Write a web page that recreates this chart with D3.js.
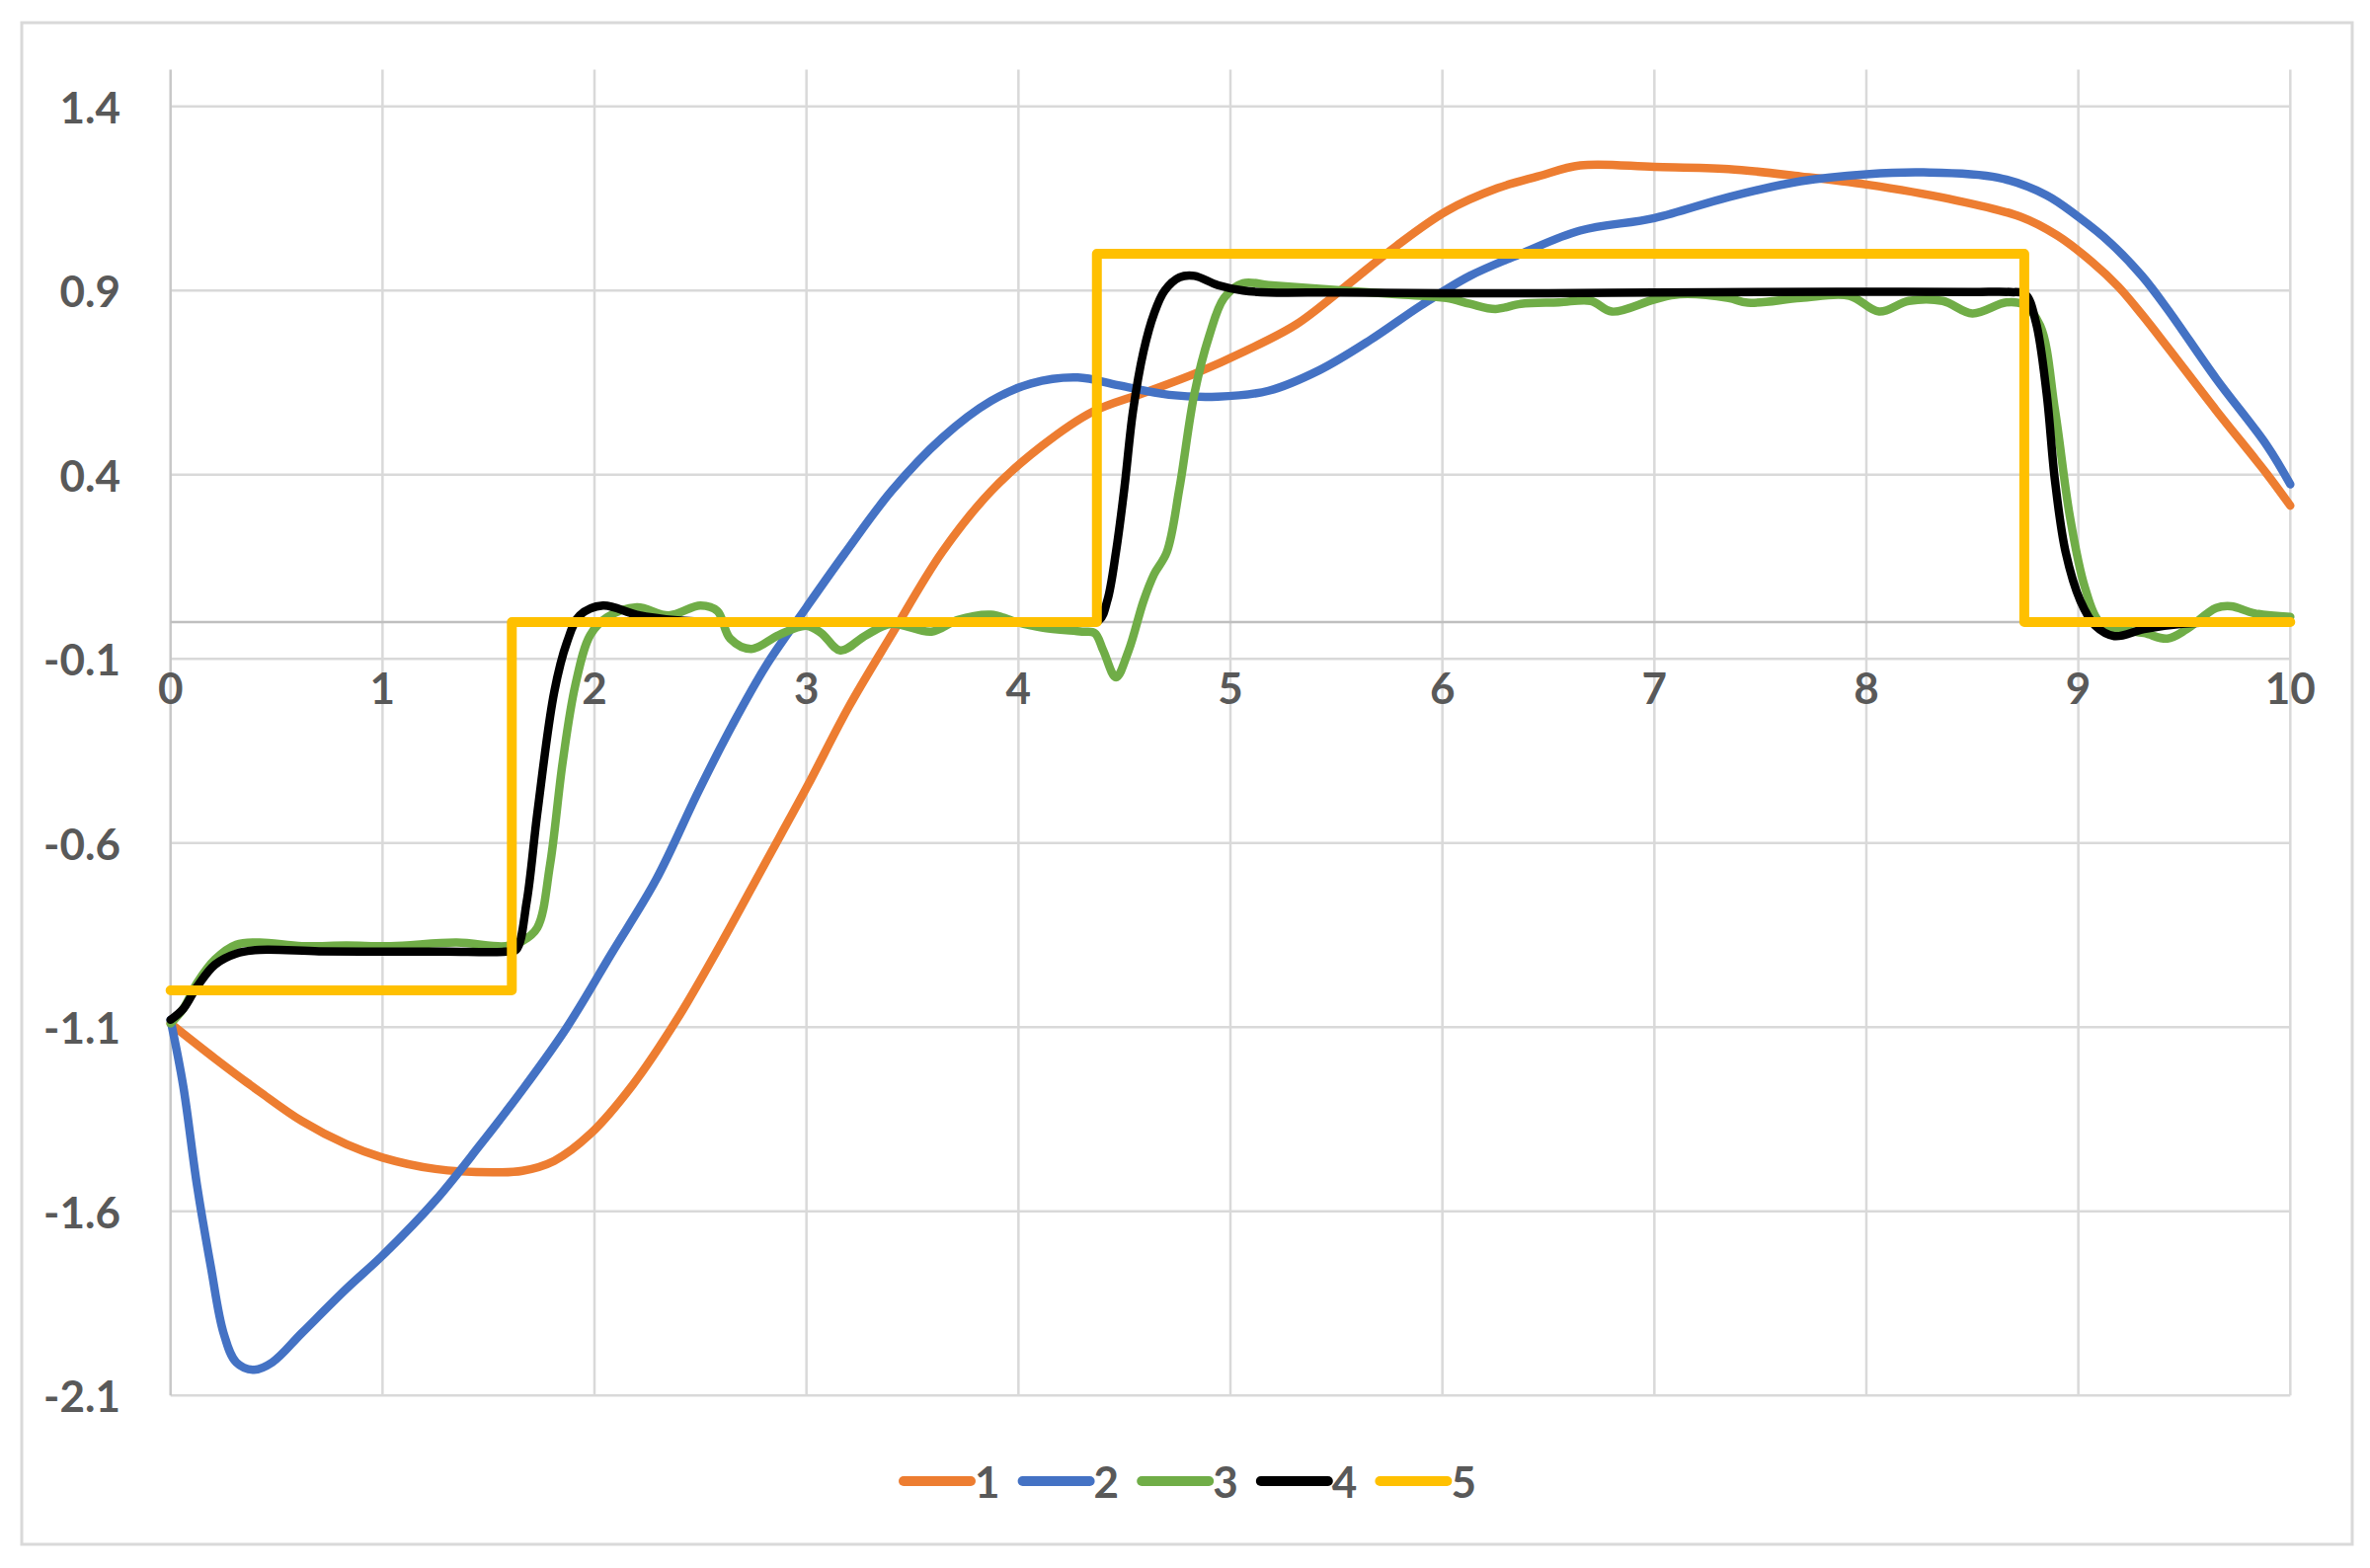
<!DOCTYPE html>
<html>
<head>
<meta charset="utf-8">
<script src="https://cdn.jsdelivr.net/npm/d3@7"></script>
<style>
  html, body { margin: 0; padding: 0; background: #ffffff; }
  svg { display: block; }
  text { font-family: Lato, "Open Sans", "Liberation Sans", sans-serif; fill: #595959; font-weight: 700; }
</style>
</head>
<body>
<script>
// ---------------- data ----------------
const X_TICKS = [0, 1, 2, 3, 4, 5, 6, 7, 8, 9, 10];
const X_LABELS = ["0", "1", "2", "3", "4", "5", "6", "7", "8", "9", "10"];
const Y_TICKS = [-2.1, -1.6, -1.1, -0.6, -0.1, 0.4, 0.9, 1.4];
const Y_LABELS = ["-2.1", "-1.6", "-1.1", "-0.6", "-0.1", "0.4", "0.9", "1.4"];
const SERIES_NAMES = ["1", "2", "3", "4", "5"];

const x1 = [0, 0.21, 0.42, 0.62, 0.83, 1.0, 1.25, 1.52, 1.66, 1.81, 1.98, 2.18, 2.39, 2.6, 2.8, 3.0, 3.2, 3.4, 3.64, 3.87, 4.11, 4.35, 4.59, 4.83, 5.07, 5.31, 5.54, 5.78, 6.02, 6.26, 6.45, 6.65, 7.0, 7.35, 7.69, 8.0, 8.39, 8.73, 8.9, 9.06, 9.19, 9.3, 9.42, 9.65, 9.89, 10];
const y1 = [-1.09, -1.185, -1.275, -1.355, -1.418, -1.454, -1.485, -1.494, -1.49, -1.463, -1.39, -1.257, -1.078, -0.87, -0.66, -0.45, -0.23, -0.036, 0.19, 0.355, 0.478, 0.571, 0.622, 0.674, 0.736, 0.808, 0.91, 1.02, 1.116, 1.178, 1.21, 1.24, 1.236, 1.23, 1.21, 1.188, 1.149, 1.10, 1.05, 0.98, 0.91, 0.835, 0.747, 0.575, 0.402, 0.316];

const x2 = [0, 0.06, 0.125, 0.19, 0.25, 0.31, 0.395, 0.48, 0.62, 0.83, 1.0, 1.25, 1.46, 1.66, 1.87, 2.08, 2.29, 2.49, 2.65, 2.81, 3.0, 3.18, 3.4, 3.64, 3.87, 4.06, 4.28, 4.47, 4.71, 4.94, 5.18, 5.42, 5.66, 5.9, 6.13, 6.37, 6.65, 7.0, 7.35, 7.69, 8.0, 8.27, 8.62, 8.85, 9.0, 9.15, 9.3, 9.42, 9.65, 9.89, 10];
const y2 = [-1.08, -1.26, -1.53, -1.75, -1.93, -2.01, -2.03, -2.01, -1.93, -1.81, -1.72, -1.57, -1.42, -1.27, -1.10, -0.90, -0.70, -0.46, -0.28, -0.118, 0.04, 0.186, 0.355, 0.50, 0.60, 0.648, 0.664, 0.643, 0.617, 0.612, 0.628, 0.684, 0.766, 0.86, 0.94, 1.0, 1.063, 1.097, 1.154, 1.197, 1.216, 1.221, 1.207, 1.159, 1.10, 1.03, 0.94, 0.85, 0.661, 0.479, 0.374];

const x3 = [0, 0.06, 0.125, 0.21, 0.31, 0.42, 0.62, 0.83, 1.04, 1.35, 1.58, 1.66, 1.73, 1.79, 1.85, 1.91, 1.98, 2.06, 2.2, 2.35, 2.5, 2.58, 2.64, 2.74, 2.87, 3.0, 3.07, 3.16, 3.28, 3.4, 3.59, 3.71, 3.87, 3.99, 4.11, 4.3, 4.36, 4.4, 4.46, 4.52, 4.59, 4.64, 4.7, 4.76, 4.83, 4.9, 4.97, 5.06, 5.18, 5.42, 5.78, 6.02, 6.13, 6.25, 6.37, 6.55, 6.7, 6.8, 7.0, 7.12, 7.35, 7.44, 7.69, 7.92, 8.06, 8.2, 8.36, 8.5, 8.66, 8.74, 8.82, 8.89, 8.96, 9.03, 9.1, 9.19, 9.31, 9.42, 9.51, 9.65, 9.72, 9.83, 10];
const y3 = [-1.09, -1.05, -0.98, -0.916, -0.876, -0.87, -0.88, -0.878, -0.88, -0.87, -0.88, -0.866, -0.83, -0.66, -0.38, -0.17, -0.035, 0.013, 0.04, 0.018, 0.045, 0.03, -0.045, -0.073, -0.035, -0.01, -0.03, -0.077, -0.036, -0.005, -0.026, 0.005, 0.02, 0.0, -0.015, -0.026, -0.03, -0.077, -0.15, -0.077, 0.057, 0.13, 0.19, 0.365, 0.62, 0.777, 0.88, 0.92, 0.915, 0.905, 0.89, 0.88, 0.864, 0.85, 0.864, 0.868, 0.872, 0.843, 0.876, 0.89, 0.88, 0.867, 0.88, 0.886, 0.843, 0.872, 0.872, 0.838, 0.868, 0.862, 0.805, 0.575, 0.287, 0.096, 0.0, -0.019, -0.03, -0.045, -0.02, 0.038, 0.043, 0.024, 0.014];

const x4 = [0, 0.06, 0.125, 0.21, 0.31, 0.42, 0.7, 1.0, 1.3, 1.58, 1.63, 1.68, 1.73, 1.81, 1.87, 1.93, 2.04, 2.2, 2.39, 2.6, 3.0, 3.5, 4.0, 4.3, 4.38, 4.42, 4.46, 4.5, 4.54, 4.59, 4.64, 4.69, 4.76, 4.83, 4.94, 5.06, 5.18, 5.5, 6.0, 6.5, 7.0, 7.5, 8.0, 8.5, 8.68, 8.75, 8.8, 8.85, 8.89, 8.94, 9.01, 9.08, 9.17, 9.31, 9.49, 9.7, 10];
const y4 = [-1.08, -1.05, -0.99, -0.93, -0.90, -0.89, -0.894, -0.895, -0.895, -0.895, -0.89, -0.76, -0.52, -0.19, -0.055, 0.018, 0.045, 0.02, 0.005, 0.0, 0.0, 0.0, 0.0, 0.0, 0.005, 0.06, 0.19, 0.365, 0.571, 0.735, 0.838, 0.9, 0.936, 0.94, 0.915, 0.9, 0.895, 0.895, 0.893, 0.893, 0.895, 0.896, 0.897, 0.896, 0.896, 0.89, 0.814, 0.623, 0.383, 0.19, 0.057, -0.01, -0.038, -0.019, -0.005, 0.0, 0.0];

const x5 = [0, 1.61, 1.61, 4.37, 4.37, 8.745, 8.745, 10];
const y5 = [-1, -1, 0, 0, 1, 1, 0, 0];

const COLORS = ["#ED7D31", "#4472C4", "#70AD47", "#000000", "#FFC000"];

// ---------------- layout ----------------
const W = 2400, H = 1588;
const svg = d3.select("body").append("svg").attr("width", W).attr("height", H);

svg.append("rect").attr("x", 22).attr("y", 23).attr("width", 2360).attr("height", 1541)
  .attr("fill", "#ffffff").attr("stroke", "#D9D9D9").attr("stroke-width", 3);

const x = d3.scaleLinear().domain([0, 10]).range([172.7, 2319.3]);
const y = d3.scaleLinear().domain([-2.1, 1.5]).range([1413.3, 70.5]);

// horizontal gridlines
svg.append("g").selectAll("line").data(Y_TICKS).join("line")
  .attr("x1", x(0)).attr("x2", x(10))
  .attr("y1", d => y(d)).attr("y2", d => y(d))
  .attr("stroke", "#D9D9D9").attr("stroke-width", 2.5);
// vertical gridlines
svg.append("g").selectAll("line").data(X_TICKS).join("line")
  .attr("x1", d => x(d)).attr("x2", d => x(d))
  .attr("y1", y(1.5)).attr("y2", y(-2.1))
  .attr("stroke", d => d === 0 ? "#C8C8C8" : "#D9D9D9").attr("stroke-width", 2.5);
// horizontal axis at y=0
svg.append("line").attr("x1", x(0)).attr("x2", x(10)).attr("y1", y(0)).attr("y2", y(0))
  .attr("stroke", "#BFBFBF").attr("stroke-width", 2.5);

// y labels
svg.append("g").selectAll("text").data(Y_TICKS).join("text")
  .attr("x", 122).attr("y", d => y(d))
  .attr("text-anchor", "end").attr("dominant-baseline", "central")
  .attr("font-size", 44)
  .text((d, i) => Y_LABELS[i]);
// x labels
svg.append("g").selectAll("text").data(X_TICKS).join("text")
  .attr("x", d => x(d)).attr("y", y(0) + 66)
  .attr("text-anchor", "middle").attr("dominant-baseline", "central")
  .attr("font-size", 44)
  .text((d, i) => X_LABELS[i]);

// series
const smooth = d3.line().x(d => x(d[0])).y(d => y(d[1])).curve(d3.curveCatmullRom.alpha(0.5));
const straight = d3.line().x(d => x(d[0])).y(d => y(d[1]));
const seriesX = [x1, x2, x3, x4, x5];
const seriesY = [y1, y2, y3, y4, y5];
const widths = [8.5, 8.5, 8.5, 8.5, 10];
const g = svg.append("g");
seriesX.forEach((xs, k) => {
  const pts = xs.map((v, i) => [v, seriesY[k][i]]);
  g.append("path").attr("d", (k === 4 ? straight : smooth)(pts))
    .attr("fill", "none").attr("stroke", COLORS[k]).attr("stroke-width", widths[k])
    .attr("stroke-linejoin", "round").attr("stroke-linecap", "round");
});

// legend
const legY = 1500;
const leg = svg.append("g");
SERIES_NAMES.forEach((name, k) => {
  const lx = 915 + k * 120.6;
  leg.append("line").attr("x1", lx).attr("x2", lx + 68).attr("y1", legY).attr("y2", legY)
    .attr("stroke", COLORS[k]).attr("stroke-width", 10).attr("stroke-linecap", "round");
  leg.append("text").attr("x", lx + 72).attr("y", legY).attr("dominant-baseline", "central")
    .attr("font-size", 44).text(name);
});
</script>
</body>
</html>
